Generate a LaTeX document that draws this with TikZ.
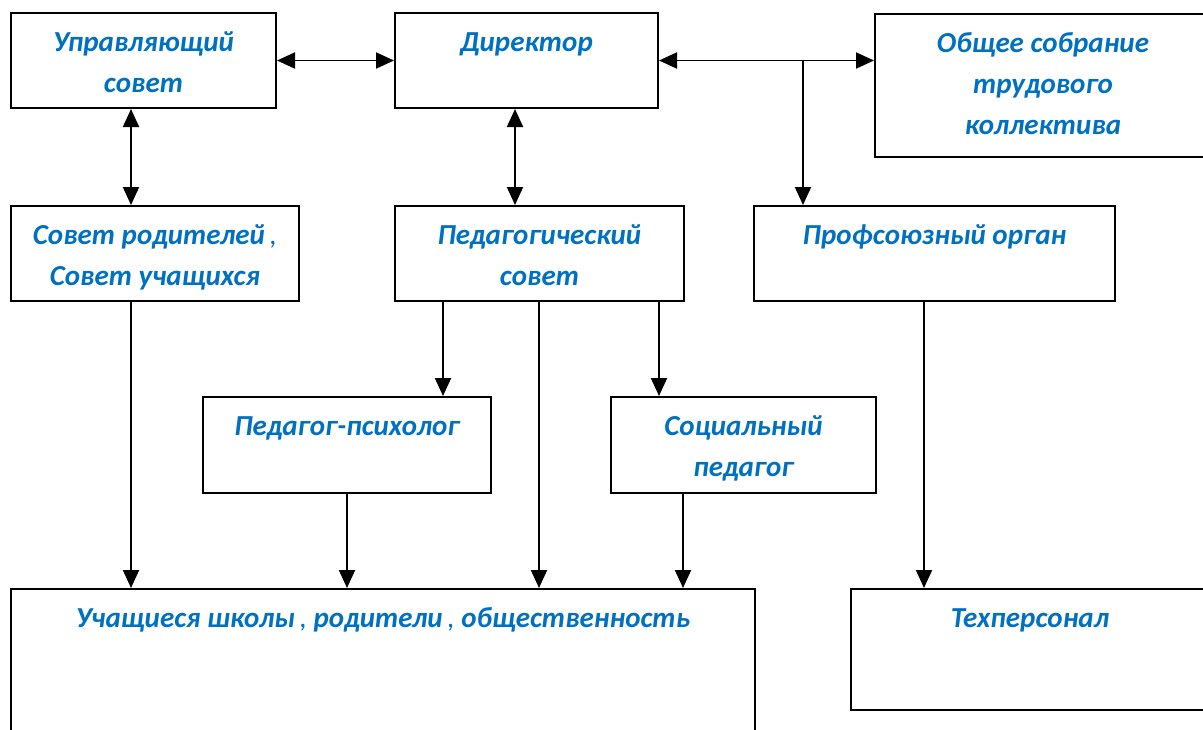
\documentclass[tikz,border=0pt]{standalone}
\usepackage{fontspec}
\setmainfont{Carlito}
\usetikzlibrary{arrows.meta}
\definecolor{txtblue}{HTML}{0070C0}
\tikzset{
 box/.style={draw=black, line width=2pt, rectangle, inner sep=0pt},
 lbl/.style={anchor=north, inner sep=0pt, align=center, text=txtblue, font=\fontsize{29}{41}\selectfont\bfseries\itshape},
 conn/.style={line width=1.9pt, -{Triangle[length=18pt,width=16pt]}},
 biconn/.style={line width=1.9pt, {Triangle[length=18pt,width=16pt]}-{Triangle[length=18pt,width=16pt]}},
}
\begin{document}
\begin{tikzpicture}[x=1pt,y=1pt]
\useasboundingbox (0,0) rectangle (1203,-729);
\clip (0,0) rectangle (1203,-729);
% boxes
\node[box, minimum width=265pt, minimum height=95pt] (uprav) at (143.5,-60.5) {};
\node[box, minimum width=263pt, minimum height=95pt] (dir) at (526.5,-60.5) {};
\node[box, minimum width=336pt, minimum height=143pt] (obsh) at (1043,-85.5) {};
\node[box, minimum width=288pt, minimum height=95pt] (sovrod) at (155,-253.5) {};
\node[box, minimum width=289pt, minimum height=95pt] (pedsov) at (539.5,-253.5) {};
\node[box, minimum width=361pt, minimum height=95pt] (prof) at (934.5,-253.5) {};
\node[box, minimum width=288pt, minimum height=96pt] (psych) at (347,-445) {};
\node[box, minimum width=265pt, minimum height=96pt] (soc) at (743.5,-445) {};
\node[box, minimum width=744pt, minimum height=171pt] (uch) at (383,-674.5) {};
\node[box, minimum width=358pt, minimum height=121pt] (tech) at (1030,-649.5) {};
% labels
\node[lbl] (t-uprav) at ([yshift=-10.3pt]uprav.north) {\strut Управляющий\\совет};
\node[lbl] (t-dir) at ([yshift=-10.3pt]dir.north) {\strut Директор};
\node[lbl] (t-obsh) at ([yshift=-10.3pt]obsh.north) {\strut Общее собрание\\трудового\\коллектива};
\node[lbl] (t-sovrod) at ([yshift=-10.3pt]sovrod.north) {\strut Совет родителей\,{\mdseries,}\\Совет учащихся};
\node[lbl] (t-pedsov) at ([yshift=-10.3pt]pedsov.north) {\strut Педагогический\\совет};
\node[lbl] (t-prof) at ([yshift=-10.3pt]prof.north) {\strut Профсоюзный орган};
\node[lbl] (t-psych) at ([yshift=-10.3pt]psych.north) {\strut Педагог-психолог};
\node[lbl] (t-soc) at ([yshift=-10.3pt]soc.north) {\strut Социальный\\педагог};
\node[lbl] (t-uch) at ([yshift=-10.3pt]uch.north) {\strut Учащиеся школы\,{\mdseries,} родители\,{\mdseries,} общественность};
\node[lbl] (t-tech) at ([yshift=-10.3pt]tech.north) {\strut Техперсонал};
% connectors
\draw[biconn] (uprav.east) -- (dir.west);
\draw[biconn] (dir.east) -- (obsh.west |- dir.east);
\coordinate (br) at (803,-60.5);
\draw[conn] (br) -- (br |- prof.north);
\draw[biconn] (131,0 |- uprav.south) -- (131,0 |- sovrod.north);
\draw[biconn] (515,0 |- dir.south) -- (515,0 |- pedsov.north);
\draw[conn] (443,0 |- pedsov.south) -- (443,0 |- psych.north);
\draw[conn] (659,0 |- pedsov.south) -- (659,0 |- soc.north);
\draw[conn] (539,0 |- pedsov.south) -- (539,0 |- uch.north);
\draw[conn] (131,0 |- sovrod.south) -- (131,0 |- uch.north);
\draw[conn] (347,0 |- psych.south) -- (347,0 |- uch.north);
\draw[conn] (683,0 |- soc.south) -- (683,0 |- uch.north);
\draw[conn] (924,0 |- prof.south) -- (924,0 |- tech.north);
\end{tikzpicture}
\end{document}
